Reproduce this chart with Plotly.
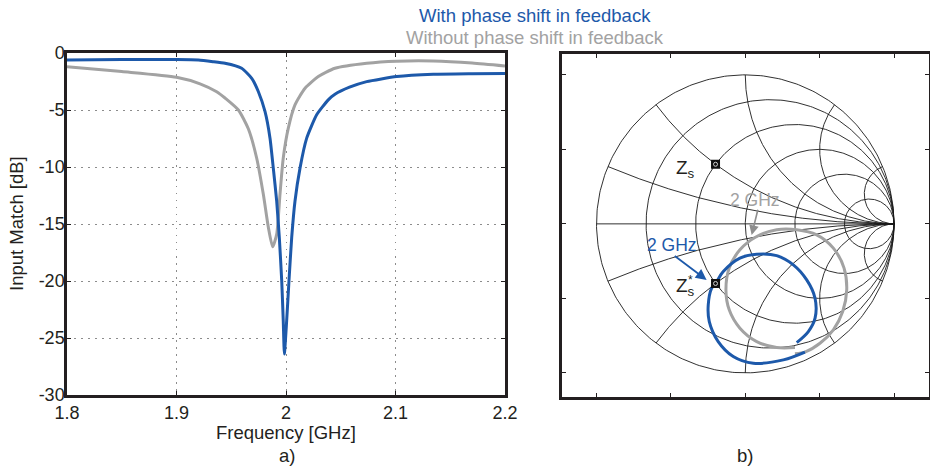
import numpy as np
import plotly.graph_objects as go

# ---------------- data: panel a) input match ----------------
freq_with = [1.800, 1.850, 1.900, 1.920, 1.9333, 1.9443, 1.9595, 1.9687, 1.9747, 1.9808,
             1.9854, 1.9884, 1.9915, 1.9939, 1.9961, 1.9975, 1.9985, 2.0006, 2.0027,
             2.0052, 2.0082, 2.0128, 2.0189, 2.0280, 2.0386, 2.0447, 2.058, 2.0737, 2.1011,
             2.1345, 2.170, 2.200]
db_with = [-0.61, -0.57, -0.58, -0.62, -0.76, -0.90, -1.34, -2.22, -3.38, -5.13,
           -7.47, -10.1, -13.0, -16.2, -20.0, -23.5, -26.4, -23.5, -20.0,
           -16.2, -13.0, -10.1, -7.47, -5.42, -4.11, -3.62, -3.0, -2.51, -2.07,
           -1.87, -1.82, -1.80]

freq_without = [1.800, 1.850, 1.900, 1.9215, 1.9367, 1.9443, 1.9565, 1.9656, 1.9732,
                1.9793, 1.9839, 1.9878, 1.9915, 1.9945, 1.9975, 2.0021, 2.0082, 2.0174,
                2.0295, 2.0447, 2.0737, 2.1011, 2.1345, 2.170, 2.200]
db_without = [-1.20, -1.63, -2.13, -2.70, -3.40, -3.95, -5.0, -6.65, -9.21,
              -12.4, -15.3, -17.0, -15.9, -12.4, -9.21, -6.59, -4.55, -3.09,
              -2.07, -1.34, -0.90, -0.72, -0.70, -0.88, -1.14]

x_tickvals = [1.8, 1.9, 2.0, 2.1, 2.2]
x_ticktext = ["1.8", "1.9", "2", "2.1", "2.2"]
y_tickvals = [0, -5, -10, -15, -20, -25, -30]
y_ticktext = ["0", "-5", "-10", "-15", "-20", "-25", "-30"]

# ---------------- data: panel b) Smith chart ----------------
smith_r = [0.2, 0.5, 1, 2, 5]
smith_x = [0.2, 0.5, 1, 2, 5]

gamma_with_re = [0.401, 0.256, 0.054, -0.081, -0.182, -0.242, -0.249, -0.226, -0.199,
                 -0.148, -0.036, 0.077, 0.211, 0.323, 0.413, 0.469, 0.469, 0.424, 0.346]
gamma_with_im = [-0.861, -0.913, -0.935, -0.890, -0.790, -0.656, -0.544, -0.432, -0.398,
                 -0.320, -0.230, -0.204, -0.213, -0.275, -0.376, -0.499, -0.633, -0.723, -0.797]

gamma_without_re = [0.334, 0.408, 0.502, 0.592, 0.655, 0.682, 0.664, 0.592, 0.480, 0.346,
                    0.211, 0.077, -0.036, -0.108, -0.130, -0.108, -0.036, 0.077, 0.211, 0.334]
gamma_without_im = [-0.872, -0.857, -0.801, -0.711, -0.588, -0.443, -0.297, -0.163, -0.074,
                    -0.040, -0.040, -0.085, -0.174, -0.297, -0.443, -0.577, -0.700, -0.790,
                    -0.830, -0.830]

zs_r, zs_x = 0.5, 0.5   # source impedance (normalised)

BLUE = "#1d59aa"
GRAY = "#a2a2a2"
DARK = "#231f20"
FONT = "Liberation Sans, Arial, sans-serif"
W, H = 930, 467


def gamma(z):
    return (z - 1) / (z + 1)


# Smith grid geometry
gx, gy = [], []
t = np.linspace(0, 2 * np.pi, 361)
for r in [0] + smith_r:
    c = r / (1 + r)
    rad = 1 / (1 + r)
    gx += list(c + rad * np.cos(t)) + [None]
    gy += list(rad * np.sin(t)) + [None]
u = np.linspace(0, np.pi / 2, 400)[:-1]
s = np.tan(u)
for xv in smith_x:
    for sgn in (1, -1):
        g = gamma(s + 1j * sgn * xv)
        gx += list(g.real) + [1.0, None]
        gy += list(g.imag) + [0.0, None]
gx += [-1, 1, None]
gy += [0, 0, None]

zs_g = gamma(complex(zs_r, zs_x))
zsc_g = gamma(complex(zs_r, -zs_x))

fig = go.Figure()

# panel a
fig.add_trace(go.Scatter(x=freq_without, y=db_without, mode="lines",
                         line=dict(color=GRAY, width=3, shape="spline", smoothing=0.6),
                         xaxis="x", yaxis="y", hoverinfo="skip", showlegend=False))
fig.add_trace(go.Scatter(x=freq_with, y=db_with, mode="lines",
                         line=dict(color=BLUE, width=3, shape="spline", smoothing=0.5),
                         xaxis="x", yaxis="y", hoverinfo="skip", showlegend=False))

# panel b
fig.add_trace(go.Scatter(x=gx, y=gy, mode="lines", line=dict(color="#1a1a1a", width=0.9),
                         xaxis="x2", yaxis="y2", hoverinfo="skip", showlegend=False))
fig.add_trace(go.Scatter(x=gamma_without_re, y=gamma_without_im, mode="lines",
                         line=dict(color=GRAY, width=3, shape="spline", smoothing=1.0),
                         xaxis="x2", yaxis="y2", hoverinfo="skip", showlegend=False))
fig.add_trace(go.Scatter(x=gamma_with_re, y=gamma_with_im, mode="lines",
                         line=dict(color=BLUE, width=3, shape="spline", smoothing=1.0),
                         xaxis="x2", yaxis="y2", hoverinfo="skip", showlegend=False))
fig.add_trace(go.Scatter(x=[zs_g.real, zsc_g.real], y=[zs_g.imag, zsc_g.imag], mode="markers",
                         marker=dict(symbol="square", size=9, color="#111"),
                         xaxis="x2", yaxis="y2", hoverinfo="skip", showlegend=False))
fig.add_trace(go.Scatter(x=[zs_g.real, zsc_g.real], y=[zs_g.imag, zsc_g.imag], mode="markers",
                         marker=dict(symbol="circle-open", size=4, color="#cfcfcf",
                                     line=dict(width=1, color="#cfcfcf")),
                         xaxis="x2", yaxis="y2", hoverinfo="skip", showlegend=False))

axis_common = dict(showline=True, linecolor=DARK, linewidth=2.5, mirror="ticks",
                   ticks="inside", ticklen=4, tickcolor=DARK, zeroline=False,
                   automargin=False, tickfont=dict(size=18, color=DARK))
grid_common = dict(showgrid=True, gridcolor="#8c8c8c", griddash="1.5px,5.5px", gridwidth=1)

fig.update_layout(
    width=W, height=H,
    margin=dict(l=0, r=0, t=0, b=0, autoexpand=False),
    paper_bgcolor="white", plot_bgcolor="white",
    font=dict(family=FONT, size=18.5, color=DARK),
    xaxis=dict(domain=[67 / W, 505 / W], range=[1.8, 2.2], tickvals=x_tickvals,
               ticktext=x_ticktext, ticklabelstandoff=0, anchor="y",
               **grid_common, **axis_common),
    yaxis=dict(domain=[(H - 395) / H, (H - 53) / H], range=[-30, 0], tickvals=y_tickvals,
               ticktext=y_ticktext, ticklabelstandoff=-4, anchor="x",
               **grid_common, **axis_common),
    xaxis2=dict(domain=[562.3 / W, 929 / W], range=[-1.23, 1.235],
                tickvals=[-1, -0.5, 0, 0.5, 1], showticklabels=False, showgrid=False,
                anchor="y2", **axis_common),
    yaxis2=dict(domain=[(H - 396.7) / H, (H - 54) / H], range=[-1.16, 1.14],
                tickvals=[-1, -0.5, 0, 0.5, 1], showticklabels=False, showgrid=False,
                anchor="x2", **axis_common),
)

C = dict(xanchor="center", yanchor="middle", showarrow=False)
ann = []
# titles / legend text
ann.append(dict(text="With phase shift in feedback", x=535 / W, y=(H - 15) / H,
                xref="paper", yref="paper", font=dict(color=BLUE, size=18.5), **C))
ann.append(dict(text="Without phase shift in feedback", x=535 / W, y=(H - 38) / H,
                xref="paper", yref="paper", font=dict(color=GRAY, size=18.5), **C))
ann.append(dict(text="Frequency [GHz]", x=286 / W, y=(H - 432) / H,
                xref="paper", yref="paper", **C))
ann.append(dict(text="Input Match [dB]", x=17 / W, y=(H - 224) / H, textangle=-90,
                xref="paper", yref="paper", **C))
ann.append(dict(text="a)", x=287 / W, y=(H - 455) / H, xref="paper", yref="paper", **C))
ann.append(dict(text="b)", x=745 / W, y=(H - 455) / H, xref="paper", yref="paper", **C))
# smith annotations
ann.append(dict(text="", x=0.043, y=-0.074, ax=0.087, ay=0.105, xref="x2", yref="y2",
                axref="x2", ayref="y2", showarrow=True, arrowhead=2, arrowsize=1.2,
                arrowwidth=1.6, arrowcolor="#8e8e8e"))
ann.append(dict(text="2 GHz", x=0.064, y=0.161, xref="x2", yref="y2",
                font=dict(color=GRAY, size=17.5), **C))
ann.append(dict(text="", x=-0.260, y=-0.376, ax=-0.484, ay=-0.208, xref="x2", yref="y2",
                axref="x2", ayref="y2", showarrow=True, arrowhead=2, arrowsize=1.2,
                arrowwidth=1.8, arrowcolor=BLUE))
ann.append(dict(text="2 GHz", x=-0.493, y=-0.141, xref="x2", yref="y2",
                font=dict(color=BLUE, size=17.5), **C))
ann.append(dict(text="Z<sub>s</sub>", x=-0.405, y=0.365, xref="x2", yref="y2",
                font=dict(size=19), **C))
ann.append(dict(text="Z<sub>s</sub>", x=-0.405, y=-0.425, xref="x2", yref="y2",
                font=dict(size=19), **C))
ann.append(dict(text="*", x=-0.368, y=-0.380, xref="x2", yref="y2",
                font=dict(size=12), **C))
fig.update_layout(annotations=ann)

fig.write_html("out.html", config={"displayModeBar": False},
               post_script="document.body.style.margin='0px';"
                           "document.body.style.padding='0px';")
